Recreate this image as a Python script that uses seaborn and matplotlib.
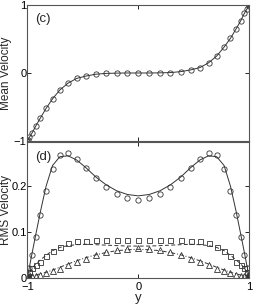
import numpy as np
import pandas as pd
import seaborn as sns
import matplotlib
matplotlib.use('Agg')
import matplotlib.pyplot as plt

# wall-normal positions of the samples
y_pos = [-1.0, -0.995, -0.981, -0.957, -0.924, -0.882, -0.831, -0.773, -0.707,
         -0.634, -0.556, -0.471, -0.383, -0.290, -0.195, -0.098, 0.0,
         0.098, 0.195, 0.290, 0.383, 0.471, 0.556, 0.634, 0.707,
         0.773, 0.831, 0.882, 0.924, 0.957, 0.981, 0.995, 1.0]

# (c) mean velocity
mean_vel = [-1.0, -0.985, -0.945, -0.88, -0.78, -0.66, -0.52, -0.38, -0.25,
            -0.15, -0.08, -0.045, -0.018, -0.006, -0.002, 0.0, 0.0,
            0.0, 0.002, 0.006, 0.02, 0.045, 0.08, 0.15, 0.25,
            0.38, 0.51, 0.65, 0.77, 0.88, 0.945, 0.985, 1.0]

# (d) rms velocities, markers
rms_u = [0.0, 0.008, 0.022, 0.051, 0.090, 0.138, 0.189, 0.238, 0.267,
         0.271, 0.260, 0.239, 0.217, 0.198, 0.184, 0.175, 0.171,
         0.175, 0.184, 0.198, 0.217, 0.239, 0.260, 0.271, 0.267,
         0.238, 0.189, 0.138, 0.090, 0.051, 0.022, 0.008, 0.0]
rms_v = [0.0, 0.006, 0.014, 0.022, 0.028, 0.036, 0.048, 0.059, 0.069,
         0.076, 0.080, 0.082, 0.083, 0.083, 0.083, 0.083, 0.083,
         0.083, 0.083, 0.083, 0.083, 0.082, 0.080, 0.076, 0.069,
         0.059, 0.048, 0.036, 0.028, 0.022, 0.014, 0.006, 0.0]
rms_w = [0.0, 0.001, 0.002, 0.004, 0.006, 0.008, 0.011, 0.015, 0.021,
         0.028, 0.035, 0.043, 0.051, 0.057, 0.061, 0.064, 0.065,
         0.064, 0.061, 0.057, 0.051, 0.043, 0.035, 0.028, 0.021,
         0.015, 0.011, 0.008, 0.006, 0.004, 0.002, 0.001, 0.0]

# (d) rms velocities, model curves
rms_u_line = [0.0, 0.008, 0.025, 0.055, 0.095, 0.145, 0.200, 0.245, 0.264,
              0.266, 0.257, 0.240, 0.220, 0.203, 0.190, 0.182, 0.179,
              0.182, 0.190, 0.203, 0.220, 0.240, 0.257, 0.266, 0.264,
              0.245, 0.200, 0.145, 0.095, 0.055, 0.025, 0.008, 0.0]
rms_v_line = [0.0, 0.004, 0.012, 0.022, 0.031, 0.040, 0.050, 0.060, 0.067,
              0.071, 0.073, 0.074, 0.073, 0.072, 0.071, 0.070, 0.070,
              0.070, 0.071, 0.072, 0.073, 0.074, 0.073, 0.071, 0.067,
              0.060, 0.050, 0.040, 0.031, 0.022, 0.012, 0.004, 0.0]
rms_w_line = [0.0, 0.001, 0.003, 0.005, 0.007, 0.010, 0.013, 0.018, 0.024,
              0.031, 0.038, 0.045, 0.051, 0.056, 0.060, 0.062, 0.063,
              0.062, 0.060, 0.056, 0.051, 0.045, 0.038, 0.031, 0.024,
              0.018, 0.013, 0.010, 0.007, 0.005, 0.003, 0.001, 0.0]

df = pd.DataFrame({'y': y_pos, 'mean': mean_vel,
                   'u': rms_u, 'v': rms_v, 'w': rms_w,
                   'u_fit': rms_u_line, 'v_fit': rms_v_line, 'w_fit': rms_w_line})

sns.set_style('ticks')
plt.rcParams['font.family'] = ['Liberation Sans', 'DejaVu Sans']

ink = '#333333'
fig = plt.figure(figsize=(2.58, 3.05), dpi=100)
ax1 = fig.add_axes([0.106, 0.5377, 0.860, 0.446])
ax2 = fig.add_axes([0.106, 0.0875, 0.860, 0.4485])

mk = dict(ls='none', mfc='none', mec=ink, mew=0.6, ms=3.8)

# (c)
sns.lineplot(data=df, x='y', y='mean', ax=ax1, color=ink, lw=0.7)
sns.lineplot(data=df, x='y', y='mean', ax=ax1, marker='o', **mk)
ax1.set_xlim(-1, 1)
ax1.set_ylim(-1, 1)
ax1.set_yticks([-1, 0, 1])
ax1.set_xticks([-1, 0, 1])
ax1.set_xticklabels([])
ax1.set_xlabel('')
ax1.set_ylabel('Mean Velocity', fontsize=8.5)
ax1.text(0.035, 0.94, '(c)', transform=ax1.transAxes, fontsize=9.5, va='top')

# (d)
sns.lineplot(data=df, x='y', y='u_fit', ax=ax2, color=ink, lw=0.7)
sns.lineplot(data=df, x='y', y='v_fit', ax=ax2, color=ink, lw=0.7, ls=(0, (4, 2.5)))
sns.lineplot(data=df, x='y', y='w_fit', ax=ax2, color=ink, lw=0.7, ls=(0, (4, 2, 1, 2)))
sns.lineplot(data=df, x='y', y='u', ax=ax2, marker='o', **mk)
sns.lineplot(data=df, x='y', y='v', ax=ax2, marker='s', **dict(mk, ms=3.6))
sns.lineplot(data=df, x='y', y='w', ax=ax2, marker='^', **dict(mk, ms=3.8))
ax2.set_xlim(-1, 1)
ax2.set_ylim(0, 0.297)
ax2.set_yticks([0, 0.1, 0.2])
ax2.set_yticklabels(['0', '0.1', '0.2'])
ax2.set_xticks([-1, 0, 1])
ax2.set_xlabel('y', fontsize=9.5, labelpad=0.5)
ax2.set_ylabel('RMS Velocity', fontsize=8.5)
ax2.text(0.035, 0.93, '(d)', transform=ax2.transAxes, fontsize=9.5, va='top')

for ax in (ax1, ax2):
    ax.tick_params(direction='in', length=3, width=0.6, top=True, right=True,
                   labelsize=8, pad=2.5, colors='black')
    ax.tick_params(axis='y', pad=0.5)
    for s in ax.spines.values():
        s.set_linewidth(0.8)
        s.set_color('#555555')
        s.set_visible(True)
    ax.yaxis.set_label_coords(-0.07, 0.5)

fig.savefig('out.png', dpi=100)
